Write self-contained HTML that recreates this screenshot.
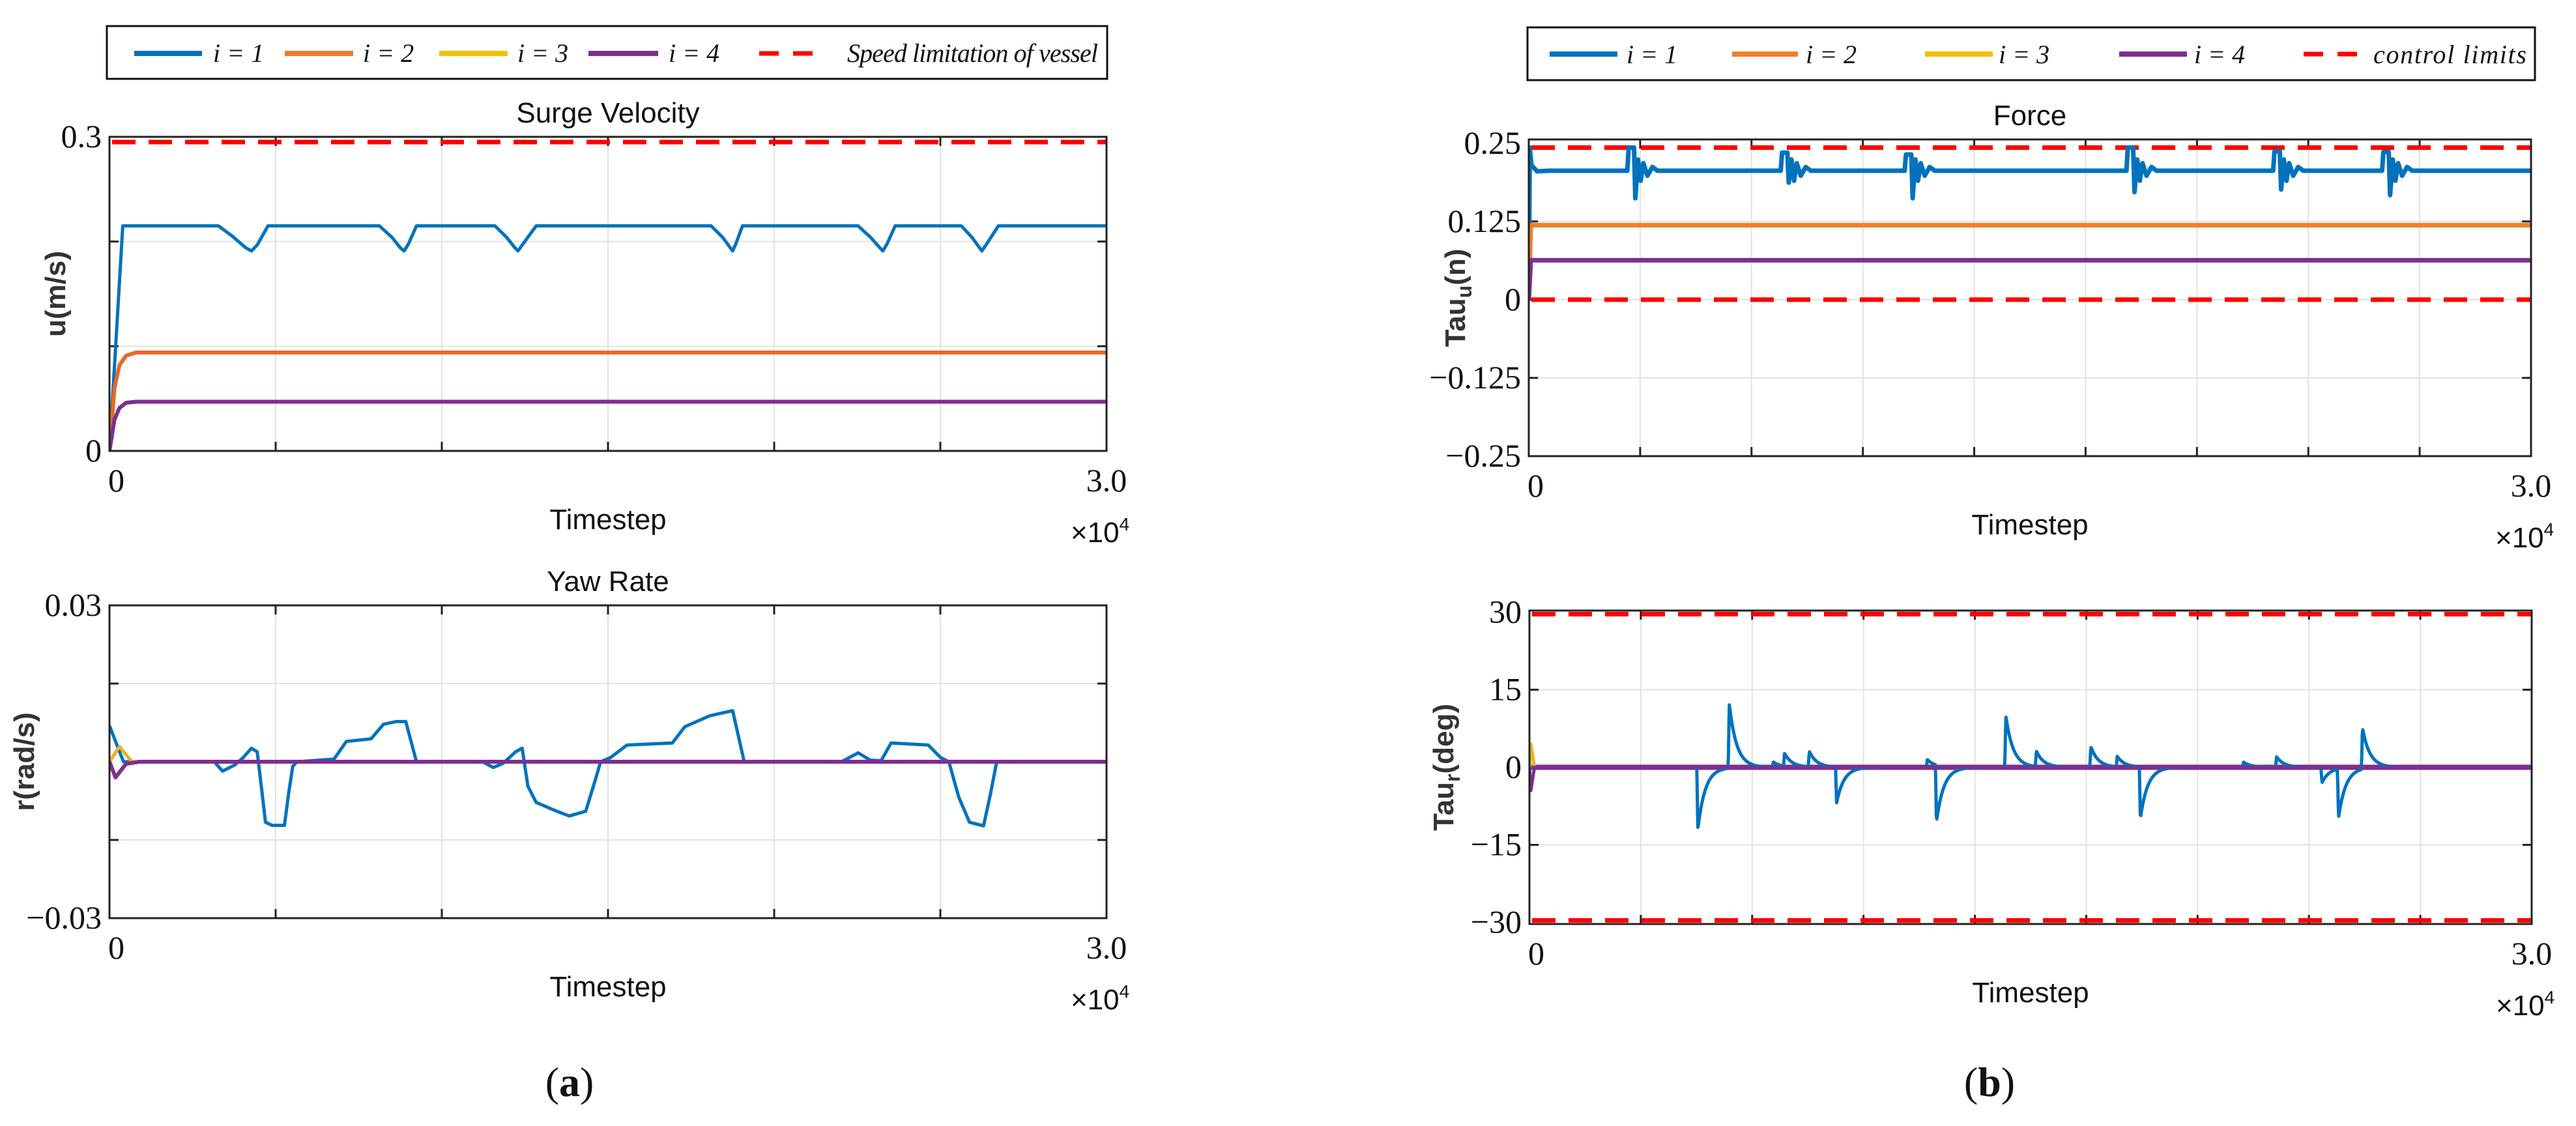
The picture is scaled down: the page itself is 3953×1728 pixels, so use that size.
<!DOCTYPE html>
<html><head><meta charset="utf-8"><style>
html,body{margin:0;padding:0;background:#fff;}
svg{display:block;}
.tick{font-family:"Liberation Serif",serif;font-size:50px;fill:#111;}
.ttl{font-family:"Liberation Sans",sans-serif;font-size:44px;fill:#111;}
.ylab{font-family:"Liberation Sans",sans-serif;font-size:44px;fill:#333;font-weight:bold;}
.leg{font-family:"Liberation Serif",serif;font-size:40px;font-style:italic;fill:#111;}
.cap{font-family:"Liberation Serif",serif;font-size:64px;fill:#111;}
</style></head><body>
<svg id="fig" width="3953" height="1728" viewBox="0 0 3953 1728" xmlns="http://www.w3.org/2000/svg">
<g>
<rect x="164" y="40" width="1535" height="81" fill="#fff" stroke="#111" stroke-width="3"/>
<line x1="206" y1="82" x2="310" y2="82" stroke="#0072BD" stroke-width="8"/><text class="leg" x="327" y="95">i = 1</text>
<line x1="437" y1="82" x2="542" y2="82" stroke="#F07F2A" stroke-width="8"/><text class="leg" x="557" y="95">i = 2</text>
<line x1="674" y1="82" x2="779" y2="82" stroke="#F5C000" stroke-width="8"/><text class="leg" x="794" y="95">i = 3</text>
<line x1="903" y1="82" x2="1010" y2="82" stroke="#7E2F8E" stroke-width="8"/><text class="leg" x="1026" y="95">i = 4</text>
<line x1="1165" y1="82" x2="1260" y2="82" stroke="#f00" stroke-width="7" stroke-dasharray="30,22"/><text class="leg" x="1300" y="95" textLength="385">Speed limitation of vessel</text>
</g>
<g>
<rect x="2344" y="42" width="1546" height="81" fill="#fff" stroke="#111" stroke-width="3"/>
<line x1="2378" y1="83" x2="2482" y2="83" stroke="#0072BD" stroke-width="8"/><text class="leg" x="2496" y="97">i = 1</text>
<line x1="2658" y1="83" x2="2759" y2="83" stroke="#F07F2A" stroke-width="8"/><text class="leg" x="2771" y="97">i = 2</text>
<line x1="2954" y1="83" x2="3058" y2="83" stroke="#F5C000" stroke-width="8"/><text class="leg" x="3067" y="97">i = 3</text>
<line x1="3252" y1="83" x2="3356" y2="83" stroke="#7E2F8E" stroke-width="8"/><text class="leg" x="3367" y="97">i = 4</text>
<line x1="3535" y1="83" x2="3627" y2="83" stroke="#f00" stroke-width="7" stroke-dasharray="30,22"/><text class="leg" x="3642" y="97" textLength="235">control limits</text>
</g>
<text class="cap" x="874" y="1682" text-anchor="middle">(<tspan font-weight="bold">a</tspan>)</text>
<text class="cap" x="3053" y="1682" text-anchor="middle">(<tspan font-weight="bold">b</tspan>)</text>
</svg>
<script>
// ---- data ----
const surgeBlueT=[0,400,3278,3700,4100,4272,4450,4768,8121,8500,8750,8866,9000,9238,11598,11950,12200,12293,12450,12840,18104,18450,18680,18750,18850,19048,22525,22900,23180,23270,23400,23642,25629,25950,26180,26250,26400,26747,30000];
const surgeBlueV=[0,0.215,0.215,0.205,0.194,0.191,0.197,0.215,0.215,0.204,0.194,0.191,0.198,0.215,0.215,0.204,0.194,0.191,0.198,0.215,0.215,0.204,0.194,0.191,0.198,0.215,0.215,0.204,0.194,0.191,0.198,0.215,0.215,0.204,0.194,0.191,0.198,0.215,0.215];
const surgeOrangeT=[0,150,300,500,800,30000];
const surgeOrangeV=[0,0.06,0.082,0.091,0.094,0.094];
const surgePurpleT=[0,150,300,500,800,30000];
const surgePurpleV=[0,0.03,0.041,0.046,0.047,0.047];
const yawBlueT=[0,422,3154,3402,3775,4023,4272,4446,4594,4694,4893,5265,5390,5514,5638,6755,7128,7873,8245,8618,8916,9238,11225,11548,11846,12219,12417,12591,12840,13460,13833,14329,14627,14776,15075,15571,16937,17310,18055,18750,19098,22028,22525,22897,23220,23518,24636,25008,25257,25555,25877,26300,26498,26697,30000];
const yawBlueV=[0.0069,0,0,-0.0018,-0.0006,0.0008,0.0026,0.0019,-0.0061,-0.0116,-0.0122,-0.0122,-0.0061,-0.0009,0,0.0005,0.0039,0.0044,0.0072,0.0077,0.0077,0,0,-0.0011,-0.0003,0.0019,0.0026,-0.0047,-0.0078,-0.0095,-0.0104,-0.0095,-0.0033,0,0.0008,0.0032,0.0036,0.0067,0.0088,0.0098,0,0,0.0017,0.0003,0.0002,0.0036,0.0032,0.0008,0,-0.0068,-0.0116,-0.0123,-0.0065,0,0];
const yawYellowT=[0,300,670,30000];
const yawYellowV=[0,0.0029,0,0];
const yawPurpleT=[0,180,500,900,30000];
const yawPurpleV=[0,-0.003,-0.0004,0,0];
const forceBase=0.206;
const forceEventT=[2950,7540,11250,17890,22280,25540];
const forceEventHi=[0.243,0.235,0.232,0.243,0.237,0.236];
const forceEventLo=[0.162,0.187,0.162,0.172,0.176,0.167];
const forceOrange=0.119, forcePurple=0.063;
const tauSpikeT=[5041,5980,7300,7636,8377,9193,11911,12183,14258,15173,16804,17595,18287,21375,22364,23723,24217,24934];
const tauSpikeA=[-12,12.5,1,2.5,3,-7,1.5,-11,10,3,4,2,-10,1,2,-3,-9.5,8];

// ---- helpers ----
const NS='http://www.w3.org/2000/svg';
const svg=document.getElementById('fig');
function mk(tag,attrs,parent){const e=document.createElementNS(NS,tag);for(const k in attrs)e.setAttribute(k,attrs[k]);(parent||svg).appendChild(e);return e;}
function axes(o){
  const g=mk('g',{});
  
  
  const sx=t=>o.x0+(t-0)/30000*(o.x1-o.x0);
  const sy=v=>o.y1-(v-o.ymin)/(o.ymax-o.ymin)*(o.y1-o.y0);
  for(let i=1;i<o.nx;i++){const x=o.x0+i*(o.x1-o.x0)/o.nx;const l=mk('line',{x1:x,x2:x,y1:o.y0,y2:o.y1,stroke:'#e2e2e2','stroke-width':2},g);
    mk('line',{x1:x,x2:x,y1:o.y1,y2:o.y1-14,stroke:'#222','stroke-width':3},g);mk('line',{x1:x,x2:x,y1:o.y0,y2:o.y0+14,stroke:'#222','stroke-width':3},g);}
  o.ygrid.forEach(v=>{const y=sy(v);const l=mk('line',{x1:o.x0,x2:o.x1,y1:y,y2:y,stroke:'#e2e2e2','stroke-width':2},g);
    mk('line',{x1:o.x0,x2:o.x0+14,y1:y,y2:y,stroke:'#222','stroke-width':3},g);mk('line',{x1:o.x1,x2:o.x1-14,y1:y,y2:y,stroke:'#222','stroke-width':3},g);});
  o.yticks.forEach((v,i)=>{const t=mk('text',{class:'tick',x:o.x0-12,y:sy(v)+16,'text-anchor':'end'},g);t.textContent=o.ylabels[i];});
  [[0,'0','start',-2],[30000,'3.0','middle',0]].forEach(a=>{const t=mk('text',{class:'tick',x:sx(a[0])+a[3],y:o.y1+62,'text-anchor':a[2]},g);t.textContent=a[1];});
  const tt=mk('text',{class:'ttl',x:(o.x0+o.x1)/2,y:o.y1+120,'text-anchor':'middle','font-size':'48'},g);tt.textContent='Timestep';
  const ex=mk('text',{class:'ttl',x:o.x1-55,y:o.y1+140,'text-anchor':'start','font-size':'42'},g);ex.innerHTML='×10<tspan dy="-18" font-size="28">4</tspan>';
  if(o.title){const t=mk('text',{class:'ttl',x:(o.x0+o.x1)/2,y:o.y0-22,'text-anchor':'middle','font-size':'46'},g);t.textContent=o.title;}
  const yl=mk('text',{class:'ylab',transform:`translate(${o.ylx},${(o.y0+o.y1)/2}) rotate(-90)`,'text-anchor':'middle'},g);yl.innerHTML=o.ylabel;
  const clip='c'+o.name;const cp=mk('clipPath',{id:clip},g);mk('rect',{x:o.x0,y:o.y0-4,width:o.x1-o.x0,height:o.y1-o.y0+8},cp);
  const sg=mk('g',{'clip-path':`url(#${clip})`},g);
  return {g,sg,sx,sy,o};
}
function series(ax,T,V,color,w,name){
  const d=T.map((t,i)=>(i?'L':'M')+ax.sx(t).toFixed(1)+','+ax.sy(V[i]).toFixed(1)).join('');
  const p=mk('path',{d,fill:'none',stroke:color,'stroke-width':w,'stroke-linejoin':'round'},ax.sg);
  
  
}
function hdash(ax,v,name){
  const l=mk('line',{x1:ax.o.x0+4,x2:ax.o.x1,y1:ax.sy(v),y2:ax.sy(v),stroke:'#f00','stroke-width':7,'stroke-dasharray':'36,20'},ax.sg);
  
  
}
function box(ax){const r=mk('rect',{x:ax.o.x0,y:ax.o.y0,width:ax.o.x1-ax.o.x0,height:ax.o.y1-ax.o.y0,fill:'none',stroke:'#222','stroke-width':3},ax.g);}

const a1=axes({name:'surge-velocity-plot',x0:168,x1:1698,y0:210,y1:692,ymin:0,ymax:0.3,nx:6,ygrid:[0.1,0.2],yticks:[0.3,0],ylabels:['0.3','0'],title:'Surge Velocity',ylabel:'u(m/s)',ylx:100});
hdash(a1,0.295,'speed-limit-line');
series(a1,surgeBlueT,surgeBlueV,'#0072BD',5,'surge-i1');
series(a1,surgeOrangeT,surgeOrangeV,'#E8692A',6,'surge-i2');
series(a1,surgePurpleT,surgePurpleV,'#7E2F8E',6,'surge-i4');
box(a1);

const a2=axes({name:'yaw-rate-plot',x0:168,x1:1698,y0:929,y1:1409,ymin:-0.03,ymax:0.03,nx:6,ygrid:[0.015,-0.015],yticks:[0.03,-0.03],ylabels:['0.03','\u22120.03'],title:'Yaw Rate',ylabel:'r(rad/s)',ylx:52});
series(a2,yawBlueT,yawBlueV,'#0072BD',5,'yaw-i1');
series(a2,yawYellowT,yawYellowV,'#EDB120',5,'yaw-i3');
series(a2,yawPurpleT,yawPurpleV,'#7E2F8E',6,'yaw-i4');
box(a2);

const a3=axes({name:'force-plot',x0:2346,x1:3884,y0:214,y1:700,ymin:-0.25,ymax:0.256,nx:9,ygrid:[0.125,0,-0.125],yticks:[0.25,0.125,0,-0.125,-0.25],ylabels:['0.25','0.125','0','\u22120.125','\u22120.25'],title:'Force',ylabel:'Tau<tspan dy="10" font-size="32">u</tspan><tspan dy="-10">(n)</tspan>',ylx:2248});
hdash(a3,0.243,'control-limit-upper');
hdash(a3,0.0,'control-limit-lower');
(function(){
  const T=[0,30,80,250,600],V=[0,0.243,0.215,0.205,forceBase];
  forceEventT.forEach((t,i)=>{const h=forceEventHi[i],l=forceEventLo[i];
    T.push(t,t+40,t+200,t+240,t+320,t+400,t+480,t+600,t+750,t+900);
    V.push(forceBase,h,h,l,0.224,0.19,0.218,0.198,0.212,forceBase);});
  T.push(30000);V.push(forceBase);
  series(a3,T,V,'#0072BD',7,'force-i1');
  series(a3,[0,60,30000],[0,forceOrange,forceOrange],'#F07F2A',7,'force-i2');
  series(a3,[0,60,30000],[0,forcePurple,forcePurple],'#7E2F8E',7,'force-i4');
})();
box(a3);

const a4=axes({name:'tau-r-plot',x0:2347,x1:3885,y0:937,y1:1418,ymin:-30.3,ymax:30.3,nx:9,ygrid:[15,0,-15],yticks:[30,15,0,-15,-30],ylabels:['30','15','0','\u221215','\u221230'],title:'',ylabel:'Tau<tspan dy="10" font-size="32">r</tspan><tspan dy="-10">(deg)</tspan>',ylx:2230});
hdash(a4,29.6,'control-limit-upper');
hdash(a4,-29.6,'control-limit-lower');
(function(){
  const T=[],V=[];
  for(let t=0;t<=30000;t+=15){let v=0;tauSpikeT.forEach((s,i)=>{if(t>=s)v+=tauSpikeA[i]*Math.exp(-(t-s)/220);else if(s-t<30)v+=tauSpikeA[i]*(1-(s-t)/30);});T.push(t);V.push(v);}
  series(a4,[0,30000],[0,0],'#7E2F8E',8,'tau-r-i4-base');
  series(a4,T,V,'#0072BD',5,'tau-r-i1');
  series(a4,[0,40,150,30000],[0,4.5,0,0],'#EDB120',5,'tau-r-i3');
  series(a4,[0,40,150,30000],[0,-4.5,0,0],'#7E2F8E',5,'tau-r-i4');
})();
box(a4);
</script>
</body></html>
